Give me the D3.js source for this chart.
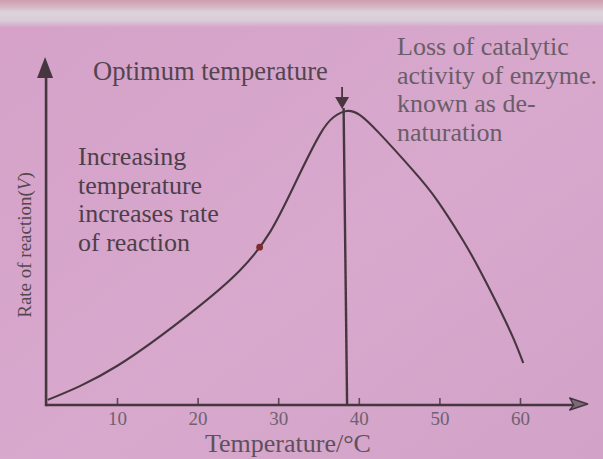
<!DOCTYPE html>
<html>
<head>
<meta charset="utf-8">
<script src="https://cdn.jsdelivr.net/npm/d3@7"></script>
<style>
  html, body { margin: 0; padding: 0; background: #d6a4ca; }
  svg { display: block; }
  text { font-family: "Liberation Serif", "Times New Roman", serif; }
</style>
</head>
<body>
<svg id="chart" width="603" height="459"></svg>
<script>
// Enzyme activity vs temperature (rate in arbitrary units, 0–100)
const temperatures = [1.4, 10.0, 19.9, 25.3, 29.0, 32.3, 35.2, 36.9, 38.5, 40.1, 42.5, 46.7, 49.7, 52.9, 55.0, 57.1, 59.1, 60.4];
const rates        = [1.7, 13.0, 32.3, 45.0, 57.7, 75.0, 90.3, 96.0, 98.0, 96.7, 90.7, 78.3, 68.3, 55.0, 45.0, 34.0, 22.7, 14.0];
const tickValues   = [10, 20, 30, 40, 50, 60];
const optimumTemp  = 38.3;
const optimumRate  = 98.0;
const markedPoint  = { temp: 27.7, rate: 52.6 };

const leftNote  = ["Increasing", "temperature", "increases rate", "of reaction"];
const rightNote = ["Loss of catalytic", "activity of enzyme.", "known as de-", "naturation"];

const svg = d3.select("#chart");
const W = 603, H = 459;

// paper background
const defs = svg.append("defs");
const grad = defs.append("linearGradient").attr("id", "paper").attr("x1", 0).attr("y1", 0).attr("x2", 1).attr("y2", 1);
grad.append("stop").attr("offset", "0%").attr("stop-color", "#d5a1c8");
grad.append("stop").attr("offset", "55%").attr("stop-color", "#d8a8cd");
grad.append("stop").attr("offset", "100%").attr("stop-color", "#d2a2c8");
svg.append("rect").attr("width", W).attr("height", H).attr("fill", "url(#paper)");
const band = defs.append("linearGradient").attr("id", "band").attr("x1", 0).attr("y1", 0).attr("x2", 0).attr("y2", 1);
band.append("stop").attr("offset", "0%").attr("stop-color", "#cf9eae");
band.append("stop").attr("offset", "25%").attr("stop-color", "#d5b6c3");
band.append("stop").attr("offset", "45%").attr("stop-color", "#dcd3dc");
band.append("stop").attr("offset", "75%").attr("stop-color", "#dacdd9");
band.append("stop").attr("offset", "100%").attr("stop-color", "#d6a6cb");
svg.append("rect").attr("width", W).attr("height", 27).attr("fill", "url(#band)");

const x = d3.scaleLinear().domain([0, 60]).range([36.4, 520]);
const y = d3.scaleLinear().domain([0, 100]).range([405, 105]);

const ink = "#45363f";
const g = svg.append("g");

// x axis with ticks pointing up
const xAxis = g.append("g")
  .attr("transform", `translate(0,${y(0)})`)
  .call(d3.axisBottom(x).tickValues(tickValues).tickSize(-7).tickPadding(7).tickFormat(d3.format("d")));
xAxis.select(".domain").remove();
xAxis.selectAll(".tick line").attr("stroke", "#5a4a56").attr("stroke-width", 1.6);
xAxis.selectAll(".tick text").attr("font-size", 19).attr("fill", "#6f6170")
  .style("font-family", '"Liberation Serif", serif');

const x0 = x(1.2), xEnd = x(68.4);
g.append("line").attr("x1", x0).attr("x2", xEnd - 14).attr("y1", y(0)).attr("y2", y(0))
  .attr("stroke", ink).attr("stroke-width", 2.6);
g.append("path")
  .attr("d", `M${xEnd},${y(0) - 1} L${xEnd - 18},${y(0) - 7} L${xEnd - 14},${y(0)} L${xEnd - 18},${y(0) + 5} Z`)
  .attr("fill", "#7b6b79").attr("stroke", ink).attr("stroke-width", 1.4).attr("stroke-linejoin", "round");

// y axis with arrow
g.append("line").attr("x1", x0).attr("x2", x0).attr("y1", y(0) + 1.3).attr("y2", 74)
  .attr("stroke", ink).attr("stroke-width", 2.6);
g.append("path")
  .attr("d", `M${x0 - 1},57 L${x0 - 9},78 L${x0 + 7},78 Z`)
  .attr("fill", ink);

// optimum marker: vertical line and downward arrow
const xo = x(optimumTemp);
g.append("line").attr("x1", xo - 1.5).attr("x2", xo + 2).attr("y1", y(optimumRate) - 3).attr("y2", y(0))
  .attr("stroke", ink).attr("stroke-width", 2.4);
g.append("line").attr("x1", xo - 3).attr("x2", xo - 3).attr("y1", 87).attr("y2", 100)
  .attr("stroke", ink).attr("stroke-width", 1.8);
g.append("path").attr("d", `M${xo - 10},97 L${xo + 4},97 L${xo - 3},109 Z`).attr("fill", ink);

// rate curve
const line = d3.line()
  .x((d, i) => x(temperatures[i]))
  .y(d => y(d))
  .curve(d3.curveNatural);
g.append("path").datum(rates).attr("d", line)
  .attr("fill", "none").attr("stroke", ink).attr("stroke-width", 2.1);

g.append("circle").attr("cx", x(markedPoint.temp)).attr("cy", y(markedPoint.rate)).attr("r", 3.4)
  .attr("fill", "#7e2a2e");

// annotations
g.append("text").attr("x", 93).attr("y", 80).attr("font-size", 26.5).attr("fill", "#52454f")
  .text("Optimum temperature");

g.append("g").selectAll("text").data(leftNote).join("text")
  .attr("x", 78).attr("y", (d, i) => 165 + i * 28.5)
  .attr("font-size", 26).attr("fill", "#4d3f4a").text(d => d);

g.append("g").selectAll("text").data(rightNote).join("text")
  .attr("x", 397).attr("y", (d, i) => 55 + i * 28.7)
  .attr("font-size", 26).attr("fill", "#6a5d69").text(d => d);

// axis titles
g.append("text").attr("x", 205).attr("y", 452).attr("font-size", 26).attr("fill", "#5e505c")
  .text("Temperature/°C");

const yt = g.append("text").attr("transform", "translate(31,245) rotate(-90)")
  .attr("text-anchor", "middle").attr("font-size", 19).attr("fill", "#55474f");
yt.append("tspan").text("Rate of reaction(");
yt.append("tspan").attr("font-style", "italic").text("V");
yt.append("tspan").text(")");
</script>
</body>
</html>
